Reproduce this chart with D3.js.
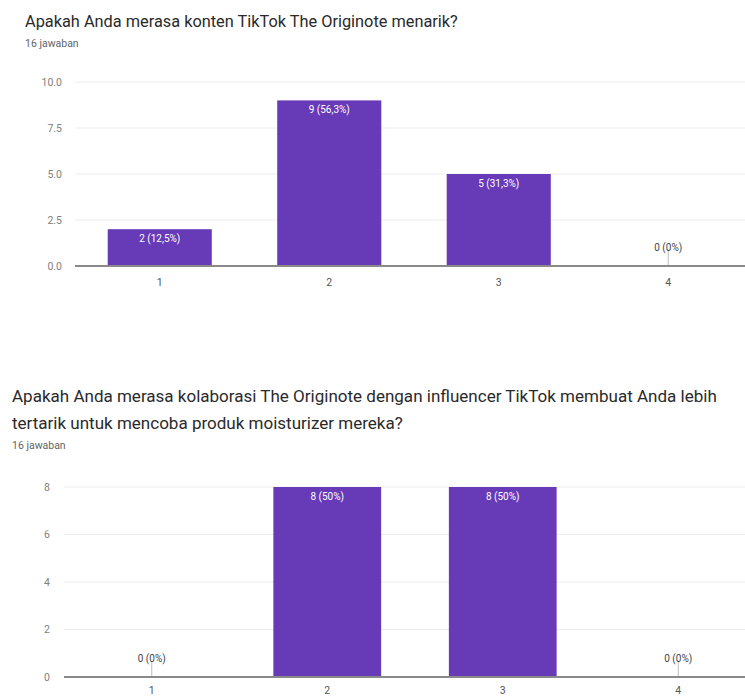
<!DOCTYPE html>
<html><head><meta charset="utf-8">
<script src="https://cdn.jsdelivr.net/npm/d3@7"></script>
<style>
body{margin:0;background:#fff}
svg{display:block;font-family:Roboto,Arial,sans-serif}
</style>
</head><body>
<svg id="c" width="745" height="696"></svg>
<script>
// ---- data ----
const categories = ["1", "2", "3", "4"];

const q1Title = ["Apakah Anda merasa konten TikTok The Originote menarik?"];
const q1Responses = "16 jawaban";
const q1Values = [2, 9, 5, 0];
const q1Labels = ["2 (12,5%)", "9 (56,3%)", "5 (31,3%)", "0 (0%)"];
const q1Ticks = [0, 2.5, 5, 7.5, 10];
const q1TickLabels = ["0.0", "2.5", "5.0", "7.5", "10.0"];

const q2Title = ["Apakah Anda merasa kolaborasi The Originote dengan influencer TikTok membuat Anda lebih",
                 "tertarik untuk mencoba produk moisturizer mereka?"];
const q2Responses = "16 jawaban";
const q2Values = [0, 8, 8, 0];
const q2Labels = ["0 (0%)", "8 (50%)", "8 (50%)", "0 (0%)"];
const q2Ticks = [0, 2, 4, 6, 8];
const q2TickLabels = ["0", "2", "4", "6", "8"];

// ---- layout ----
const svg = d3.select("#c");
const BAR = "#673ab7";

function drawChart(cfg) {
  const g = svg.append("g");
  const t0 = g.append("text").attr("x", cfg.titleX).attr("y", cfg.titleY[0])
    .attr("fill", "#2a2a2a").attr("font-size", 15).text(cfg.title[0]);
  const w = t0.node().getComputedTextLength();
  const fs = 15 * cfg.titleW / w;
  t0.attr("font-size", fs);
  for (let i = 1; i < cfg.title.length; i++) {
    g.append("text").attr("x", cfg.titleX).attr("y", cfg.titleY[i])
      .attr("fill", "#2a2a2a").attr("font-size", fs).text(cfg.title[i]);
  }
  g.append("text").attr("x", cfg.titleX).attr("y", cfg.subY)
    .attr("fill", "#5f6368").attr("font-size", cfg.subSize).text(cfg.responses);

  const x = d3.scaleBand().domain(categories).range(cfg.xRange)
    .paddingInner(0.386).paddingOuter(0.193);
  const y = d3.scaleLinear().domain(cfg.yDomain).range(cfg.yRange);

  g.append("g").selectAll("line").data(cfg.ticks.filter(d => d > 0)).join("line")
    .attr("x1", cfg.xRange[0]).attr("x2", 745)
    .attr("y1", d => y(d)).attr("y2", d => y(d))
    .attr("stroke", "#ececec").attr("stroke-width", 1);

  g.append("g").selectAll("text").data(cfg.ticks).join("text")
    .attr("x", cfg.tickRight).attr("y", d => y(d)).attr("dy", "0.35em")
    .attr("text-anchor", "end").attr("fill", "#808080").attr("font-size", cfg.tickSize)
    .text((d, i) => cfg.tickLabels[i]);

  g.append("g").selectAll("rect").data(cfg.values).join("rect")
    .attr("x", (d, i) => x(categories[i])).attr("width", x.bandwidth())
    .attr("y", d => y(d)).attr("height", d => y(0) - y(d))
    .attr("fill", BAR);

  g.append("g").selectAll("line").data(cfg.values.map((v, i) => ({v, i})).filter(d => d.v === 0)).join("line")
    .attr("x1", d => x(categories[d.i]) + x.bandwidth() / 2)
    .attr("x2", d => x(categories[d.i]) + x.bandwidth() / 2)
    .attr("y1", y(0) - 16).attr("y2", y(0))
    .attr("stroke", "#bdbdbd").attr("stroke-width", 1);

  g.append("g").selectAll("text").data(cfg.values).join("text")
    .attr("x", (d, i) => x(categories[i]) + x.bandwidth() / 2)
    .attr("y", d => d > 0 ? y(d) + 9 : y(0) - 19)
    .attr("dy", "0.35em").attr("text-anchor", "middle")
    .attr("font-size", cfg.labelSize)
    .attr("fill", d => d > 0 ? "#ffffff" : "#444")
    .text((d, i) => cfg.labels[i]);

  g.append("line").attr("x1", cfg.xRange[0]).attr("x2", 745)
    .attr("y1", y(0)).attr("y2", y(0))
    .attr("stroke", "#8a8a8a").attr("stroke-width", 2);

  const xa = d3.axisBottom(x).tickSize(0).tickPadding(0);
  const ax = g.append("g").attr("transform", `translate(0,${cfg.xLabelY})`).call(xa);
  ax.select(".domain").remove();
  ax.selectAll("text").attr("fill", "#555").attr("font-size", cfg.tickSize)
    .attr("font-family", "Roboto,Arial,sans-serif").attr("dy", "0");
}

drawChart({
  title: q1Title, responses: q1Responses, values: q1Values, labels: q1Labels,
  ticks: q1Ticks, tickLabels: q1TickLabels,
  titleX: 25, titleY: [27], titleW: 433, subY: 47, subSize: 10.5,
  xRange: [75, 753], yDomain: [0, 10], yRange: [266, 82],
  tickRight: 62, tickSize: 10.5, labelSize: 10, xLabelY: 286
});

drawChart({
  title: q2Title, responses: q2Responses, values: q2Values, labels: q2Labels,
  ticks: q2Ticks, tickLabels: q2TickLabels,
  titleX: 12, titleY: [402, 429], titleW: 705, subY: 449, subSize: 10.5,
  xRange: [64, 766], yDomain: [0, 8], yRange: [677, 487],
  tickRight: 50, tickSize: 10.5, labelSize: 10, xLabelY: 694
});
</script>
</body></html>
